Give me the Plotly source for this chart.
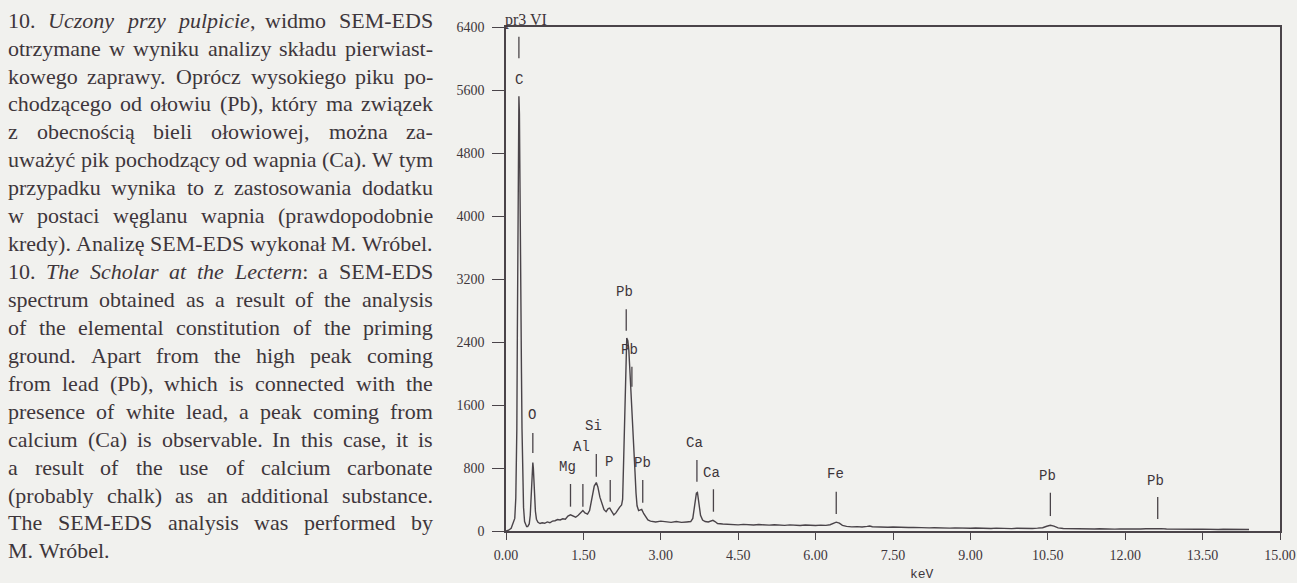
import plotly.graph_objects as go

# ---------------- data ----------------
energy_kev = [
    0.00, 0.05, 0.10, 0.14, 0.17, 0.19, 0.20, 0.21, 0.22, 0.23, 0.24, 0.25, 0.26, 0.27, 0.28,
    0.29, 0.30, 0.31, 0.32, 0.34, 0.36, 0.38, 0.40, 0.42, 0.45, 0.47, 0.49, 0.51, 0.52, 0.53,
    0.55, 0.57, 0.59, 0.62, 0.66, 0.70, 0.75, 0.80, 0.85, 0.90, 0.95, 1.00, 1.05, 1.10, 1.15,
    1.20, 1.25, 1.30, 1.35, 1.40, 1.45, 1.49, 1.53, 1.58, 1.62, 1.65, 1.68, 1.71, 1.75, 1.78,
    1.82, 1.86, 1.90, 1.94, 1.98, 2.01, 2.05, 2.09, 2.13, 2.17, 2.20, 2.24, 2.26, 2.28, 2.30,
    2.32, 2.34, 2.36, 2.38, 2.40, 2.42, 2.44, 2.46, 2.48, 2.50, 2.52, 2.54, 2.57, 2.60, 2.63,
    2.67, 2.71, 2.75, 2.80, 2.90, 3.00, 3.10, 3.20, 3.30, 3.40, 3.50, 3.58, 3.62, 3.66, 3.69,
    3.71, 3.74, 3.77, 3.81, 3.86, 3.92, 3.97, 4.01, 4.05, 4.10, 4.20, 4.30, 4.40, 4.50, 4.60,
    4.70, 4.80, 4.90, 5.00, 5.10, 5.20, 5.30, 5.40, 5.50, 5.60, 5.70, 5.80, 5.90, 6.00, 6.10,
    6.20, 6.28, 6.34, 6.40, 6.46, 6.52, 6.60, 6.70, 6.80, 6.90, 7.00, 7.05, 7.10, 7.20, 7.30,
    7.40, 7.50, 7.60, 7.70, 7.80, 7.90, 8.00, 8.10, 8.20, 8.30, 8.40, 8.50, 8.60, 8.70, 8.80,
    8.90, 9.00, 9.10, 9.20, 9.30, 9.40, 9.50, 9.60, 9.70, 9.80, 9.90, 10.00, 10.10, 10.20, 10.30,
    10.40, 10.48, 10.55, 10.62, 10.70, 10.80, 10.90, 11.00, 11.10, 11.20, 11.30, 11.40, 11.50, 11.60, 11.70,
    11.80, 11.90, 12.00, 12.10, 12.20, 12.30, 12.40, 12.50, 12.60, 12.70, 12.80, 12.90, 13.00, 13.10, 13.20,
    13.30, 13.40, 13.50, 13.60, 13.70, 13.80, 13.90, 14.00, 14.10, 14.20, 14.30, 14.40,
]
counts = [
    0, 10, 35, 110, 160, 420, 800, 1300, 2500, 4000, 5200, 5520, 5300, 4700, 3800,
    2900, 2000, 1300, 800, 300, 120, 70, 55, 55, 90, 200, 500, 820, 870, 800,
    500, 250, 150, 110, 95, 105, 98, 115, 105, 125, 130, 145, 140, 155, 150,
    190, 205, 190, 175, 200, 240, 260, 230, 215, 260, 350, 480, 570, 615, 560,
    430, 340, 270, 245, 285, 290, 250, 205, 230, 280, 300, 330, 400, 900, 1500,
    2150, 2450, 2420, 2300, 2050, 1750, 1500, 1250, 1000, 750, 480, 320, 260, 270, 275,
    220, 170, 140, 125, 115, 125, 120, 110, 120, 110, 115, 120, 160, 320, 480,
    490, 360, 200, 140, 120, 115, 125, 135, 120, 95, 88, 82, 85, 78, 84,
    80, 76, 82, 78, 74, 80, 76, 72, 78, 74, 70, 76, 72, 70, 74,
    72, 80, 98, 112, 100, 72, 58, 52, 56, 50, 58, 64, 54, 50, 52,
    48, 50, 46, 48, 44, 46, 42, 44, 40, 42, 38, 40, 36, 40, 36,
    38, 34, 38, 34, 36, 32, 36, 32, 34, 30, 34, 32, 34, 32, 36,
    42, 60, 72, 62, 40, 32, 30, 28, 30, 26, 28, 26, 28, 24, 26,
    24, 26, 24, 26, 24, 26, 28, 30, 36, 30, 26, 24, 22, 24, 22,
    24, 22, 24, 20, 22, 20, 22, 20, 22, 20, 22, 20,
]

peak_labels = ["C", "O", "Mg", "Al", "Si", "P", "Pb", "Pb", "Pb", "Ca", "Ca", "Fe", "Pb", "Pb"]
marker_kev = [0.25, 0.52, 1.25, 1.49, 1.75, 2.02, 2.33, 2.44, 2.65, 3.70, 4.02, 6.40, 10.55, 12.63]
marker_top = [6277, 1244, 597, 597, 978, 648, 2815, 2087, 648, 902, 530, 499, 486, 432]
marker_bottom = [6003, 990, 309, 309, 690, 372, 2544, 1833, 359, 626, 245, 216, 190, 152]
label_kev = [0.25, 0.51, 1.20, 1.46, 1.70, 1.99, 2.30, 2.39, 2.64, 3.655, 3.98, 6.39, 10.50, 12.59]
label_counts = [5727, 1473, 809, 1071, 1337, 880, 3039, 2298, 867, 1114, 740, 724, 698, 635]

x_tick_vals = [0, 1.5, 3, 4.5, 6, 7.5, 9, 10.5, 12, 13.5, 15]
x_tick_text = ["0.00", "1.50", "3.00", "4.50", "6.00", "7.50", "9.00", "10.50", "12.00", "13.50", "15.00"]
y_tick_vals = [0, 800, 1600, 2400, 3200, 4000, 4800, 5600, 6400]

spectrum_name = "pr3 VI"
x_title = "keV"

caption_pl = [
    "10. <i>Uczony przy pulpicie</i>, widmo SEM-EDS",
    "otrzymane w wyniku analizy składu pierwiast-",
    "kowego zaprawy. Oprócz wysokiego piku po-",
    "chodzącego od ołowiu (Pb), który ma związek",
    "z obecnością bieli ołowiowej, można za-",
    "uważyć pik pochodzący od wapnia (Ca). W tym",
    "przypadku wynika to z zastosowania dodatku",
    "w postaci węglanu wapnia (prawdopodobnie",
    "kredy). Analizę SEM-EDS wykonał M. Wróbel.",
]
caption_en = [
    "10. <i>The Scholar at the Lectern</i>: a SEM-EDS",
    "spectrum obtained as a result of the analysis",
    "of the elemental constitution of the priming",
    "ground. Apart from the high peak coming",
    "from lead (Pb), which is connected with the",
    "presence of white lead, a peak coming from",
    "calcium (Ca) is observable. In this case, it is",
    "a result of the use of calcium carbonate",
    "(probably chalk) as an additional substance.",
    "The SEM-EDS analysis was performed by",
    "M. Wróbel.",
]

# ---------------- styling ----------------
BG = "#f1f1ee"
INK = "#3e363b"
LINE = "#4a4449"
W, H = 1297, 583
ML, MR, MT, MB = 506, 17, 27, 52
PW, PH = W - ML - MR, H - MT - MB


def px_to_paper(px, py):
    """page pixel position -> paper coordinates"""
    return (px - ML) / PW, (H - MB - py) / PH


# Times / Liberation Serif advance widths (per 1000 em) for justification
REG = dict(zip("abcdefghijklmnopqrstuvwxyz",
               [444, 500, 444, 500, 444, 333, 500, 500, 278, 278, 500, 278, 778, 500, 500, 500, 500, 333, 389, 278, 500, 500, 722, 500, 500, 444]))
REG.update(dict(zip("ABCDEFGHIJKLMNOPQRSTUVWXYZ",
                    [722, 667, 667, 722, 611, 556, 722, 722, 333, 389, 722, 611, 889, 722, 722, 556, 722, 667, 556, 611, 722, 722, 944, 722, 722, 611])))
REG.update({c: 500 for c in "0123456789"})
REG.update({" ": 250, ".": 250, ",": 250, ":": 278, "-": 333, "(": 333, ")": 333,
            "ą": 444, "ć": 444, "ę": 444, "ł": 278, "ń": 500, "ó": 500, "ś": 389, "ź": 444, "ż": 444})
ITA = dict(REG)
ITA.update(dict(zip("abcdefghijklmnopqrstuvwxyz",
                    [500, 500, 444, 500, 444, 278, 500, 500, 278, 278, 444, 278, 722, 500, 500, 500, 500, 389, 389, 278, 500, 444, 667, 444, 444, 389])))
ITA.update({"T": 556, "S": 500, "L": 556, "U": 722})


def split_words(line):
    words, italic = [], False
    for raw in line.split(" "):
        segs, buf, i = [], "", 0
        while i < len(raw):
            if raw.startswith("<i>", i):
                if buf:
                    segs.append((buf, italic)); buf = ""
                italic = True; i += 3
            elif raw.startswith("</i>", i):
                if buf:
                    segs.append((buf, italic)); buf = ""
                italic = False; i += 4
            else:
                buf += raw[i]; i += 1
        if buf:
            segs.append((buf, italic))
        words.append(segs)
    return words


def seg_width(segs, size):
    return sum((ITA if it else REG).get(ch, 500) for t, it in segs for ch in t) * size / 1000.0


def seg_markup(segs):
    return "".join(f"<i>{t}</i>" if it else t for t, it in segs)


fig = go.Figure()

fig.add_trace(go.Scatter(x=energy_kev, y=counts, mode="lines",
                         line=dict(color=LINE, width=1.4), hoverinfo="skip"))

mx, my = [], []
for k, t, b in zip(marker_kev, marker_top, marker_bottom):
    mx += [k, k, None]
    my += [b, t, None]
fig.add_trace(go.Scatter(x=mx, y=my, mode="lines", line=dict(color=LINE, width=1.3), hoverinfo="skip"))

annotations = []
for lab, k, c in zip(peak_labels, label_kev, label_counts):
    annotations.append(dict(x=k, y=c, xref="x", yref="y", text=lab, showarrow=False,
                            xanchor="center", yanchor="middle",
                            font=dict(family="Liberation Mono", size=14, color=INK)))

# spectrum name above the frame
xp, yp = px_to_paper(505, 20)
annotations.append(dict(x=xp, y=yp, xref="paper", yref="paper", text=spectrum_name, showarrow=False,
                        xanchor="left", yanchor="middle", borderpad=0, borderwidth=0,
                        font=dict(family="Liberation Serif", size=16, color=INK)))
# x axis title
xp, yp = px_to_paper(922, 574)
annotations.append(dict(x=xp, y=yp, xref="paper", yref="paper", text=x_title, showarrow=False,
                        xanchor="center", yanchor="middle", borderpad=0, borderwidth=0,
                        font=dict(family="Liberation Mono", size=13, color=INK)))

# justified caption, word by word
FS = 22
LEFT, RIGHT = 8, 433
caption = caption_pl + caption_en
for i, line in enumerate(caption):
    cy = 20.2 + i * 27.93
    words = split_words(line)
    widths = [seg_width(w, FS) for w in words]
    last = (i == len(caption) - 1)
    if last or len(words) == 1:
        gap = 0.25 * FS
    else:
        gap = (RIGHT - LEFT - sum(widths)) / (len(words) - 1)
    x = LEFT
    for w, wd in zip(words, widths):
        xp, yp = px_to_paper(x, cy)
        annotations.append(dict(x=xp, y=yp, xref="paper", yref="paper", text=seg_markup(w),
                                showarrow=False, xanchor="left", yanchor="middle",
                                borderpad=0, borderwidth=0,
                                font=dict(family="Liberation Serif", size=FS, color=INK)))
        x += wd + gap

axis_common = dict(showline=True, linecolor=LINE, linewidth=1.5, mirror=True, showgrid=False,
                   zeroline=False, ticks="outside", tickcolor=LINE, tickwidth=1.3, automargin=False,
                   tickfont=dict(family="Liberation Serif", size=14, color=INK))

fig.update_layout(
    width=W, height=H,
    margin=dict(l=ML, r=MR, t=MT, b=MB, pad=0, autoexpand=False),
    paper_bgcolor=BG, plot_bgcolor=BG,
    showlegend=False,
    xaxis=dict(range=[0, 15], tickvals=x_tick_vals, ticktext=x_tick_text, ticklen=7,
               ticklabelstandoff=3, **axis_common),
    yaxis=dict(range=[0, 6400], tickvals=y_tick_vals, ticklen=12, ticklabelstandoff=5, **axis_common),
    annotations=annotations,
)

# remove the page's default body margin so the fixed-size figure fills the window exactly
fig.write_html("out.html", config={"displayModeBar": False},
               post_script="document.body.style.margin='0';document.body.style.background='%s';" % BG)
